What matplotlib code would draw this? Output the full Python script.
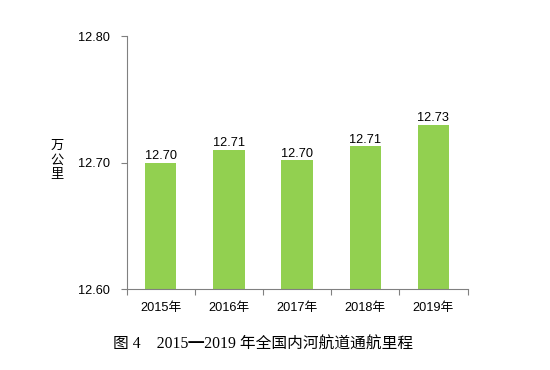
import matplotlib.pyplot as plt
import numpy as np

# 全国内河航道通航里程（万公里）
years = ['2015年', '2016年', '2017年', '2018年', '2019年']
mileage = [12.700, 12.710, 12.702, 12.713, 12.730]
labels = ['12.70', '12.71', '12.70', '12.71', '12.73']
yticks = [12.60, 12.70, 12.80]

fam = ['Liberation Sans', 'Noto Sans CJK SC', 'DejaVu Sans']
plt.rcParams['font.family'] = fam

fig = plt.figure(figsize=(5.5, 3.7), dpi=100)
ax = fig.add_axes([0.2303, 0.218, 0.6197, 0.6847])

x = np.arange(len(years))
ax.bar(x, mileage, width=0.46, color='#92D050', zorder=2)
for xi, v, lab in zip(x, mileage, labels):
    ax.text(xi, v + 0.0005, lab, ha='center', va='bottom', fontsize=9.2, color='#000000')

ax.set_xlim(-0.5, len(years) - 0.5)
ax.set_ylim(12.60, 12.80)
ax.set_yticks(yticks)
ax.set_yticklabels(['%.2f' % t for t in yticks], fontsize=9.2)
ax.set_xticks(x)
ax.set_xticklabels(years, fontsize=9.2)
ax.set_xticks(np.arange(-0.5, len(years)), minor=True)
ax.tick_params(axis='x', which='major', length=0, pad=9)
ax.tick_params(axis='x', which='minor', length=4, color='#808080', width=0.8)
ax.tick_params(axis='y', length=4, color='#808080', width=0.8, pad=8)

for s in ['top', 'right']:
    ax.spines[s].set_visible(False)
for s in ['left', 'bottom']:
    ax.spines[s].set_color('#808080')
    ax.spines[s].set_linewidth(0.8)

fig.text(57 / 550, 1 - 160 / 370, '万\n公\n里', ha='center', va='center',
         fontsize=9.5, linespacing=1.15, family=['Noto Sans CJK SC', 'DejaVu Sans'])

fig.text(263 / 550, 1 - 345 / 370, '图 4    2015━2019 年全国内河航道通航里程',
         ha='center', va='center', fontsize=11.3,
         family=['Liberation Serif', 'Noto Sans CJK SC', 'DejaVu Sans'])

fig.savefig('out.png', dpi=100)
